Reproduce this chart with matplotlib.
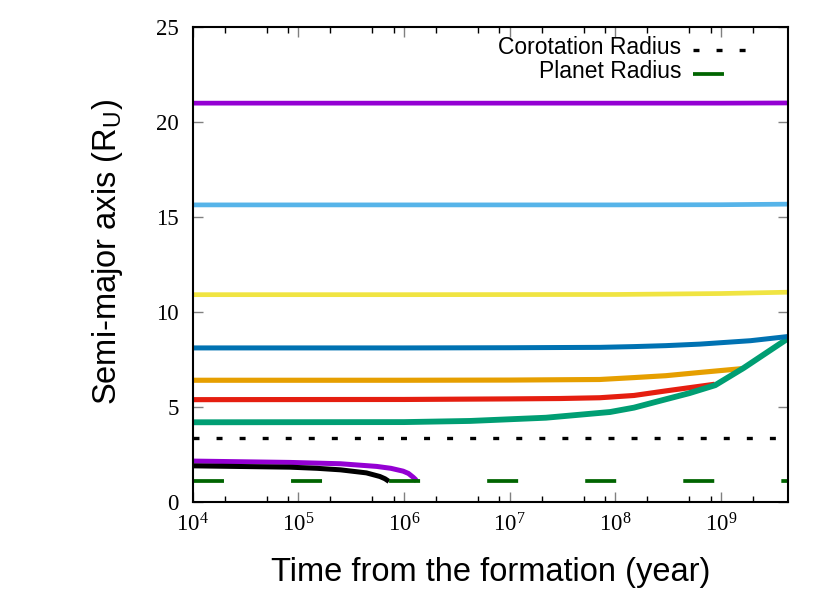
import numpy as np
import matplotlib.pyplot as plt
from matplotlib.ticker import LogLocator, NullFormatter, MultipleLocator

# time (year) and semi-major axis (R_U)
t_flat = [1e4, 1e6, 1e8, 1e9, 4.3e9]
a_violet_out = [20.97, 20.97, 20.97, 20.97, 20.98]
a_skyblue = [15.62, 15.62, 15.62, 15.63, 15.66]
a_yellow = [10.9, 10.9, 10.91, 10.96, 11.03]

t_blue = [1e4, 1e6, 1e7, 7.1e7, 1.5e8, 3e8, 6.3e8, 1.9e9, 4.3e9]
a_blue = [8.1, 8.1, 8.11, 8.13, 8.17, 8.22, 8.3, 8.48, 8.7]

t_orange = [1e4, 1e6, 1e7, 7.1e7, 1.5e8, 3e8, 6.3e8, 1.64e9]
a_orange = [6.4, 6.4, 6.41, 6.44, 6.54, 6.64, 6.81, 7.02]

t_red = [1e4, 1e6, 1e7, 3e7, 7.1e7, 1.5e8, 3e8, 8.7e8]
a_red = [5.38, 5.39, 5.42, 5.44, 5.48, 5.6, 5.84, 6.19]

t_green = [1e4, 1e6, 4.2e6, 2.2e7, 8.9e7, 1.5e8, 3e8, 5e8, 8.8e8, 1.64e9, 4.3e9]
a_green = [4.19, 4.2, 4.26, 4.43, 4.73, 4.96, 5.4, 5.72, 6.14, 7.05, 8.6]

t_violet_in = [1e4, 8.3e4, 2.5e5, 5.5e5, 7.5e5, 9.8e5, 1.1e6, 1.22e6, 1.28e6, 1.32e6]
a_violet_in = [2.15, 2.08, 2.01, 1.87, 1.77, 1.62, 1.5, 1.3, 1.19, 1.08]

t_black = [1e4, 8.3e4, 1.5e5, 2.5e5, 4.4e5, 5.9e5, 6.6e5, 7.2e5]
a_black = [1.9, 1.83, 1.77, 1.69, 1.53, 1.34, 1.22, 1.08]

t_const = [1e4, 4.3e9]
a_corotation = [3.34, 3.34]
a_planet = [1.08, 1.08]

plt.rcParams['lines.scale_dashes'] = False
plt.rcParams['font.family'] = ['Liberation Serif', 'DejaVu Serif']
sans = ['Liberation Sans', 'DejaVu Sans']

fig = plt.figure(figsize=(8.3, 5.93), dpi=100)
ax = fig.add_axes([0.2322, 0.1535, 0.7172, 0.8018])

ax.plot(t_flat, a_violet_out, color='#9400D3', lw=3.4, solid_capstyle='butt')
ax.plot(t_flat, a_skyblue, color='#56B4E9', lw=3.4, solid_capstyle='butt')
ax.plot(t_flat, a_yellow, color='#F0E442', lw=3.4, solid_capstyle='butt')
ax.plot(t_orange, a_orange, color='#E69F00', lw=3.7, solid_capstyle='butt')
ax.plot(t_red, a_red, color='#E51E10', lw=3.7, solid_capstyle='butt')
ax.plot(t_green, a_green, color='#009E73', lw=4.2, solid_capstyle='butt')
ax.plot(t_blue, a_blue, color='#0072B2', lw=3.6, solid_capstyle='butt')
ax.plot(t_violet_in, a_violet_in, color='#9400D3', lw=3.6, solid_capstyle='butt')
ax.plot(t_black, a_black, color='black', lw=3.6, solid_capstyle='butt')
ax.plot(t_const, a_corotation, color='black', lw=2.4, ls=(0, (4.3, 12.3)),
        dash_capstyle='butt')
ax.plot(t_const, a_planet, color='#006400', lw=2.7, ls=(0, (22.3, 48.3)),
        dash_capstyle='butt')

ax.set_xscale('log')
ax.set_xlim(1e4, 4.3e9)
ax.set_ylim(0, 25)
ax.xaxis.set_major_locator(LogLocator(base=10, numticks=20))
ax.xaxis.set_minor_locator(LogLocator(base=10, subs=(2, 5, 8), numticks=20))
ax.xaxis.set_minor_formatter(NullFormatter())
ax.yaxis.set_major_locator(MultipleLocator(5))

for s in ax.spines.values():
    s.set_linewidth(1.5)
ax.tick_params(which='both', direction='in', top=True, right=True)
ax.tick_params(which='major', length=7.2, width=1.0, color='#808080',
               labelsize=16.5)
ax.tick_params(which='minor', length=4.3, width=1.0, color='black')
ax.tick_params(axis='x', which='major', pad=8)
ax.tick_params(axis='y', which='major', pad=10)

ax.set_xlabel('Time from the formation (year)', fontsize=23.5, family=sans,
              labelpad=15)
ax.set_ylabel('Semi-major axis (R$_\\mathregular{U}$)', fontsize=23.5,
              family=sans)
ax.yaxis.set_label_coords(-0.113, 0.525)

# key, gnuplot style: text right aligned, sample on the right
ax.text(0.8203, 0.9416, 'Corotation Radius', transform=ax.transAxes,
        ha='right', va='baseline', fontsize=16.5, family=sans)
ax.plot([0.8404, 0.931], [0.9506, 0.9506], transform=ax.transAxes,
        color='black', lw=2.4, ls=(0, (4.3, 12.3)), dash_capstyle='butt')
ax.text(0.8203, 0.891, 'Planet Radius', transform=ax.transAxes,
        ha='right', va='baseline', fontsize=16.5, family=sans)
ax.plot([0.8404, 0.931], [0.9007, 0.9007], transform=ax.transAxes,
        color='#006400', lw=2.7, ls=(0, (22.3, 48.3)), dash_capstyle='butt')

fig.savefig('out.png', dpi=100)
